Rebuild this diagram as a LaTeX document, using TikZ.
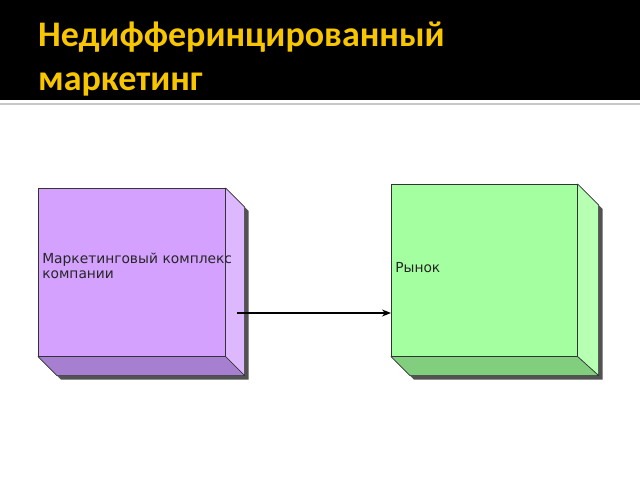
\documentclass[tikz,border=0pt]{standalone}
\usepackage{fontspec}
\setmainfont{DejaVu Sans}
\newfontfamily\titlefont{Carlito}
\usepackage{tikz}
\usetikzlibrary{positioning,arrows.meta,backgrounds}
\definecolor{titelgelb}{HTML}{F7C600}
\definecolor{lilafront}{HTML}{D4A1FF}
\definecolor{lilaseite}{HTML}{DEB8FF}
\definecolor{lilaboden}{HTML}{A77FD0}
\definecolor{gruenfront}{HTML}{A4FFA0}
\definecolor{gruenseite}{HTML}{B6FFB3}
\definecolor{gruenboden}{HTML}{82CE7F}

\begin{document}
\begin{tikzpicture}[
		x=1pt, y=-1pt,
		front/.style = {draw=black!80, line width=0.6pt, rectangle, anchor=north west, inner xsep=4pt, align=left, text=black!85, font=\fontsize{13.8}{14.5}\selectfont},
		face/.style = {draw=black!80, line width=0.6pt, line join=round},
		schatten/.style = {fill=black!68},
		titel/.style = {anchor=base west, inner sep=0pt, text=titelgelb, font=\titlefont\bfseries\fontsize{36}{40}\selectfont},
		line/.style = {draw, line width=1.1pt, -{Stealth[length=9pt, width=7pt]}}
	]
	\useasboundingbox (0,0) rectangle (640,480);

	% Kopfzeile
	\fill[black] (0,0) rectangle (640,100);
	\draw[black!22, line width=1.5pt] (0,104) -- (640,104);
	\node [titel] (titel1) at (38,46) {Недифферинцированный};
	\node [titel] (titel2) at (38,90) {маркетинг};

	% Nodos
	\node [front, fill=lilafront, minimum width=187pt, minimum height=168pt, text width=179pt, text depth=28pt] (komplex) at (38,188) {\mbox{Маркетинговый комплекс}\\компании};
	\node [front, fill=gruenfront, minimum width=186pt, minimum height=172pt, text width=178pt, text depth=6pt] (rynok) at (391,184) {Рынок};

	% Sombras y caras
	\begin{scope}[on background layer]
		\fill [schatten] ([shift={(4,4)}]komplex.north east) -- ++(19,19) -- ([shift={(23,23)}]komplex.south east) -- ([shift={(23,23)}]komplex.south west) -- ([shift={(4,4)}]komplex.south west) -- ([shift={(4,4)}]komplex.south east) -- cycle;
		\filldraw [face, fill=lilaseite] (komplex.north east) -- ++(19,19) -- ([shift={(19,19)}]komplex.south east) -- (komplex.south east) -- cycle;
		\filldraw [face, fill=lilaboden] (komplex.south west) -- (komplex.south east) -- ([shift={(19,19)}]komplex.south east) -- ([shift={(19,19)}]komplex.south west) -- cycle;

		\fill [schatten] ([shift={(4,4)}]rynok.north east) -- ++(21,21) -- ([shift={(25,23)}]rynok.south east) -- ([shift={(23,23)}]rynok.south west) -- ([shift={(4,4)}]rynok.south west) -- ([shift={(4,4)}]rynok.south east) -- cycle;
		\filldraw [face, fill=gruenseite] (rynok.north east) -- ++(21,21) -- ([shift={(21,19)}]rynok.south east) -- (rynok.south east) -- cycle;
		\filldraw [face, fill=gruenboden] (rynok.south west) -- (rynok.south east) -- ([shift={(21,19)}]rynok.south east) -- ([shift={(19,19)}]rynok.south west) -- cycle;
	\end{scope}

	% Líneas
	\coordinate (pfeilstart) at (237,313);
	\draw [line] (pfeilstart) -- (pfeilstart -| rynok.west);
\end{tikzpicture}
\end{document}
